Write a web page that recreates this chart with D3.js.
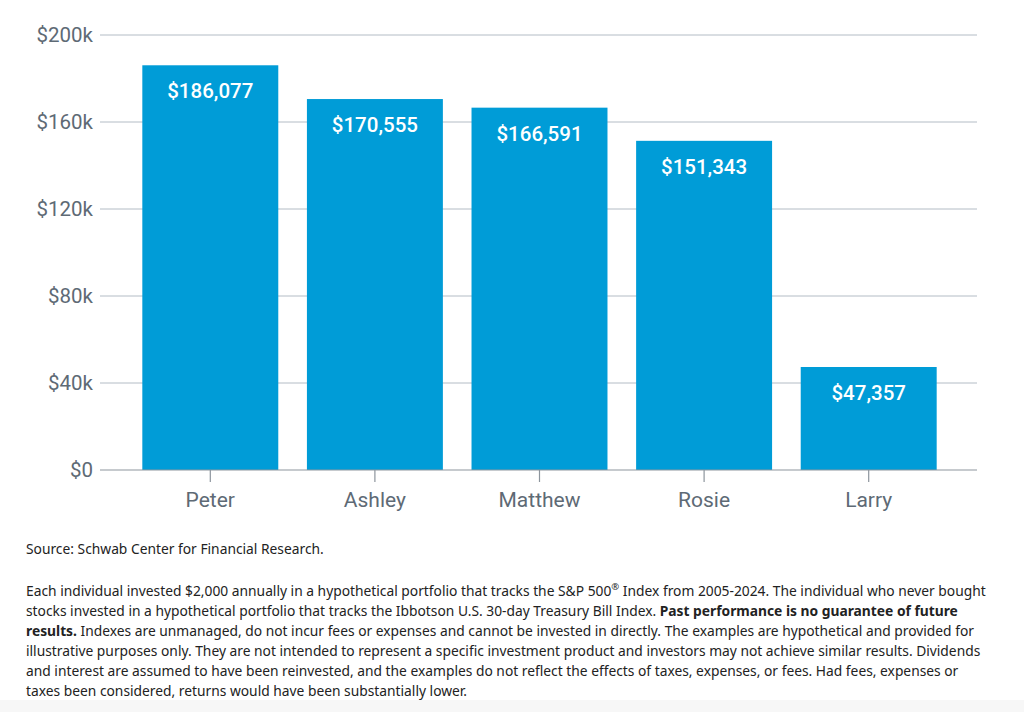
<!DOCTYPE html>
<html><head><meta charset="utf-8">
<script src="https://cdn.jsdelivr.net/npm/d3@7"></script>
<style>
html,body{margin:0;padding:0;background:#fff;}
svg{display:block;}
</style></head>
<body>
<svg id="chart" width="1024" height="712"></svg>
<script>
const names = ["Peter", "Ashley", "Matthew", "Rosie", "Larry"];
const values = [186077, 170555, 166591, 151343, 47357];
const yTicks = [0, 40000, 80000, 120000, 160000, 200000];
const sourceText = "Source: Schwab Center for Financial Research.";
const noteLines = [
  [["Each individual invested $2,000 annually in a hypothetical portfolio that tracks the S&P 500", false], ["®", "sup"], [" Index from 2005-2024. The individual who never bought", false]],
  [["stocks invested in a hypothetical portfolio that tracks the Ibbotson U.S. 30-day Treasury Bill Index. ", false], ["Past performance is no guarantee of future", true]],
  [["results.", true], [" Indexes are unmanaged, do not incur fees or expenses and cannot be invested in directly. The examples are hypothetical and provided for", false]],
  [["illustrative purposes only. They are not intended to represent a specific investment product and investors may not achieve similar results. Dividends", false]],
  [["and interest are assumed to have been reinvested, and the examples do not reflect the effects of taxes, expenses, or fees. Had fees, expenses or", false]],
  [["taxes been considered, returns would have been substantially lower.", false]]
];

const svg = d3.select("#chart");
const font = "Roboto, 'Liberation Sans', sans-serif";
const x = d3.scaleBand().domain(names).range([128, 951]).paddingInner(0.174).paddingOuter(0.087);
const y = d3.scaleLinear().domain([0, 200000]).range([470, 35]);

// bottom band
svg.append("rect").attr("x", 0).attr("y", 700).attr("width", 1024).attr("height", 12).attr("fill", "#f7f7f7");

// gridlines
svg.append("g").selectAll("line").data(yTicks.filter(d => d > 0)).join("line")
  .attr("x1", 100).attr("x2", 977)
  .attr("y1", d => y(d)).attr("y2", d => y(d))
  .attr("stroke", "#b3bcc5").attr("stroke-width", 1);

// y labels
svg.append("g").selectAll("text").data(yTicks).join("text")
  .attr("x", 93).attr("y", d => y(d)).attr("dy", "0.36em")
  .attr("text-anchor", "end")
  .attr("font-family", font).attr("font-size", 20.5).attr("fill", "#5e6a75")
  .text(d => d === 0 ? "$0" : "$" + (d / 1000) + "k");

// bars
svg.append("g").selectAll("rect").data(names).join("rect")
  .attr("x", d => x(d)).attr("width", x.bandwidth())
  .attr("y", (d, i) => y(values[i])).attr("height", (d, i) => y(0) - y(values[i]))
  .attr("fill", "#009cd7");

// bar labels
svg.append("g").selectAll("text").data(names).join("text")
  .attr("x", d => x(d) + x.bandwidth() / 2)
  .attr("y", (d, i) => y(values[i]) + 33)
  .attr("text-anchor", "middle")
  .attr("font-family", font).attr("font-size", 20.5).attr("font-weight", 500).attr("fill", "#fff")
  .text((d, i) => "$" + d3.format(",")(values[i]));

// x axis baseline
svg.append("line").attr("x1", 100).attr("x2", 977).attr("y1", y(0)).attr("y2", y(0))
  .attr("stroke", "#8d959d").attr("stroke-width", 1.2);

// ticks
svg.append("g").selectAll("line").data(names).join("line")
  .attr("x1", d => x(d) + x.bandwidth() / 2).attr("x2", d => x(d) + x.bandwidth() / 2)
  .attr("y1", y(0)).attr("y2", y(0) + 12)
  .attr("stroke", "#8d959d").attr("stroke-width", 1.2);

svg.append("g").selectAll("text").data(names).join("text")
  .attr("x", d => x(d) + x.bandwidth() / 2).attr("y", 507)
  .attr("text-anchor", "middle")
  .attr("font-family", font).attr("font-size", 21).attr("fill", "#5e6a75")
  .text(d => d);

// footnotes
const nfont = "'Noto Sans', 'Open Sans', sans-serif";
svg.append("text").attr("x", 26).attr("y", 554)
  .attr("font-family", nfont).attr("font-size", 13.8).attr("fill", "#222")
  .text(sourceText);

const g = svg.append("g");
noteLines.forEach((line, i) => {
  const t = g.append("text").attr("x", 26).attr("y", 596 + i * 20)
    .attr("font-family", nfont).attr("font-size", 13.8).attr("fill", "#222");
  line.forEach(([s, st]) => {
    const ts = t.append("tspan").text(s);
    if (st === true) ts.attr("font-weight", 700);
    if (st === "sup") ts.attr("font-size", 9.5).attr("baseline-shift", "super");
  });
});
</script>
</body></html>
